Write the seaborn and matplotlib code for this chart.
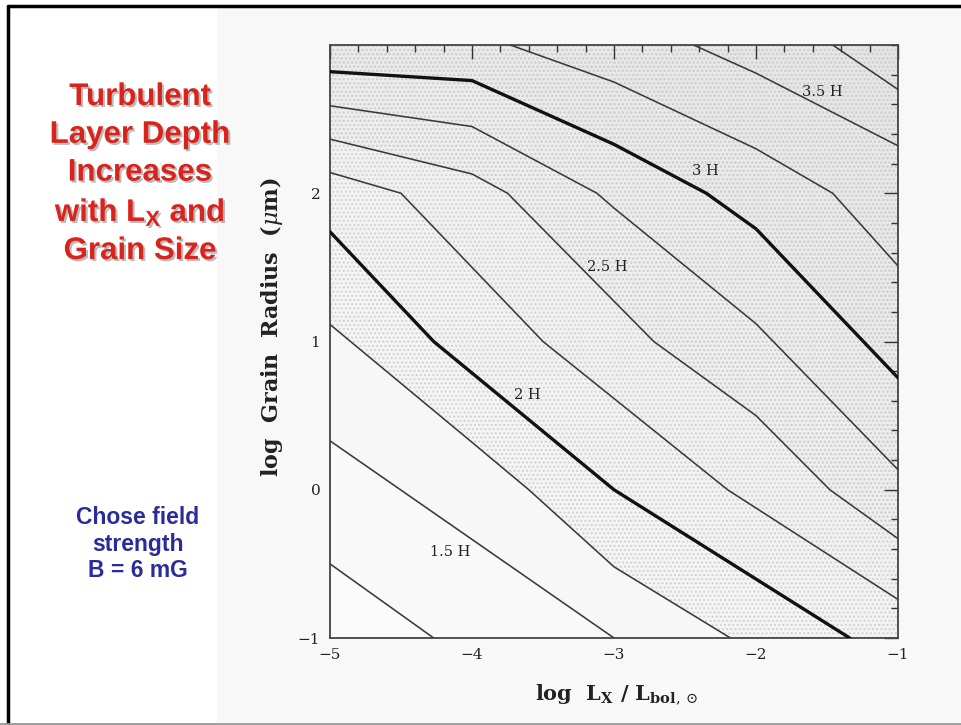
import matplotlib
matplotlib.use("Agg")
import matplotlib.pyplot as plt
import matplotlib.patheffects as pe
from matplotlib.lines import Line2D
from matplotlib.patches import Rectangle
from matplotlib.ticker import MultipleLocator
import seaborn as sns

# ---------------- data ----------------
levels = [1.25, 1.5, 1.75, 2.0, 2.25, 2.5, 2.75, 3.0, 3.25, 3.5, 3.75]
x_125 = [-5.0, -4.27]
y_125 = [-0.50, -1.0]
x_150 = [-5.0, -4.0, -3.0]
y_150 = [0.33, -0.335, -1.0]
x_175 = [-5.0, -4.0, -3.6, -3.0, -2.18]
y_175 = [1.115, 0.32, 0.0, -0.52, -1.0]
x_200 = [-5.0, -4.27, -3.0, -1.34]
y_200 = [1.74, 1.0, 0.0, -1.0]
x_225 = [-5.0, -4.5, -3.5, -2.2, -1.0]
y_225 = [2.14, 2.0, 1.0, 0.0, -0.74]
x_250 = [-5.0, -4.0, -3.75, -2.72, -2.0, -1.48, -1.0]
y_250 = [2.365, 2.13, 2.0, 1.0, 0.5, 0.0, -0.33]
x_275 = [-5.0, -4.0, -3.12, -3.0, -2.0, -1.0]
y_275 = [2.59, 2.45, 2.0, 1.9, 1.12, 0.135]
x_300 = [-5.0, -4.0, -3.0, -2.35, -2.0, -1.0]
y_300 = [2.82, 2.76, 2.33, 2.0, 1.76, 0.755]
x_325 = [-3.73, -3.0, -2.0, -1.46, -1.0]
y_325 = [3.0, 2.75, 2.3, 2.0, 1.51]
x_350 = [-2.44, -2.0, -1.0]
y_350 = [3.0, 2.81, 2.32]
x_375 = [-1.46, -1.0]
y_375 = [3.0, 2.70]

label_text = ["3.5 H", "3 H", "2.5 H", "2 H", "1.5 H"]
label_x = [-1.535, -2.36, -3.05, -3.61, -4.155]
label_y = [2.68, 2.15, 1.50, 0.64, -0.42]

x_ticks = [-5, -4, -3, -2, -1]
y_ticks = [-1, 0, 1, 2]
x_range = [-5, -1]
y_range = [-1, 3]

title_text = "Turbulent\nLayer Depth\nIncreases\nwith L$_{\\mathbf{X}}$ and\nGrain Size"
note_text = "Chose field\nstrength\nB = 6 mG"

# ---------------- style ----------------
sns.set_theme(style="white")
plt.rcParams["font.family"] = ["DejaVu Serif", "DejaVu Sans"]
plt.rcParams["mathtext.fontset"] = "custom"
plt.rcParams["mathtext.rm"] = "Liberation Sans:bold"
plt.rcParams["mathtext.bf"] = "Liberation Sans:bold"
plt.rcParams["mathtext.it"] = "Liberation Sans:bold:italic"

fig = plt.figure(figsize=(9.61, 7.25), dpi=100, facecolor="white")

# scanned-page background and slide frame
fig.patches.append(Rectangle((217 / 961, 0.003), 1 - 217 / 961, 0.99,
                             transform=fig.transFigure, facecolor="#f8f8f8",
                             edgecolor="none", zorder=-5))
fig.lines.append(Line2D([7.5 / 961, 7.5 / 961], [0.0, 1 - 5.5 / 725],
                        transform=fig.transFigure, color="black", lw=2.5))
fig.lines.append(Line2D([7.5 / 961, 1.0], [1 - 5.5 / 725, 1 - 5.5 / 725],
                        transform=fig.transFigure, color="black", lw=2.5))
fig.lines.append(Line2D([0.0, 1.0], [0.0015, 0.0015],
                        transform=fig.transFigure, color="#9a9a9a", lw=2))

ax = fig.add_axes([330 / 961, 87 / 725, 568 / 961, 593 / 725])
ax.set_facecolor("#fbfbfb")

lines_x = [x_125, x_150, x_175, x_200, x_225, x_250, x_275, x_300, x_325, x_350, x_375]
lines_y = [y_125, y_150, y_175, y_200, y_225, y_250, y_275, y_300, y_325, y_350, y_375]

# stippled tone: stack a faint tint above every contour
for lev, xs, ys in zip(levels, lines_x, lines_y):
    px = list(xs)
    py = list(ys)
    if ys[-1] == y_range[0]:
        px.append(x_range[1]); py.append(y_range[0])
    px.append(x_range[1]); py.append(y_range[1])
    if xs[0] == x_range[0]:
        px.append(x_range[0]); py.append(y_range[1])
    ax.fill(px, py, facecolor="black", alpha=0.0065, lw=0, zorder=0)
    if lev in (1.75, 2.5, 3.0):
        ax.fill(px, py, facecolor="none", edgecolor="#d2d2d2", hatch="....",
                lw=0, zorder=0.5)

for lev, xs, ys in zip(levels, lines_x, lines_y):
    thick = lev in (2.0, 3.0)
    sns.lineplot(x=xs, y=ys, sort=False, estimator=None, ax=ax,
                 color="#111111" if thick else "#3a3a3a",
                 linewidth=2.4 if thick else 1.15, zorder=3)

for t, lx, ly in zip(label_text, label_x, label_y):
    ax.text(lx, ly, t, ha="center", va="center", fontsize=10.5,
            family="DejaVu Serif", color="#222222", zorder=4)

ax.set_xlim(*x_range)
ax.set_ylim(*y_range)
ax.set_xticks(x_ticks)
ax.set_yticks(y_ticks)
ax.xaxis.set_minor_locator(MultipleLocator(0.2))
ax.yaxis.set_minor_locator(MultipleLocator(0.2))
ax.tick_params(which="both", direction="in", top=True, right=True,
               color="#333333", width=1.0, labelsize=11, labelcolor="#222222")
ax.tick_params(which="major", length=10, pad=7)
ax.tick_params(which="minor", length=5)
for s in ax.spines.values():
    s.set_color("#444444")
    s.set_linewidth(1.3)

ax.set_xlabel("log  L$_{\\mathbf{X}}$ / L$_{\\mathbf{bol},\\odot}$", fontsize=15,
              fontweight="bold", color="#222222", math_fontfamily="dejavuserif")
ax.set_ylabel("log  Grain  Radius  ($\\mu$m)", fontsize=16, fontweight="bold",
              color="#222222", math_fontfamily="dejavuserif")
ax.xaxis.set_label_coords(0.505, -0.075)
ax.yaxis.set_label_coords(-0.08, 0.524)
ax.grid(False)

fig.text(140 / 961, 1 - 174 / 725, title_text, ha="center", va="center",
         fontsize=22.5, fontweight="bold", family="Liberation Sans",
         color="#d8241c", linespacing=1.34, math_fontfamily="custom",
         path_effects=[pe.withSimplePatchShadow(offset=(1.5, -1.5),
                                                shadow_rgbFace="#7a7a7a", alpha=0.5)])
fig.text(138 / 961, 1 - 544 / 725, note_text, ha="center", va="center",
         fontsize=16.5, fontweight="bold", family="Liberation Sans",
         color="#2b2b9c", linespacing=1.22)

fig.savefig("out.png", dpi=100, facecolor="white")
